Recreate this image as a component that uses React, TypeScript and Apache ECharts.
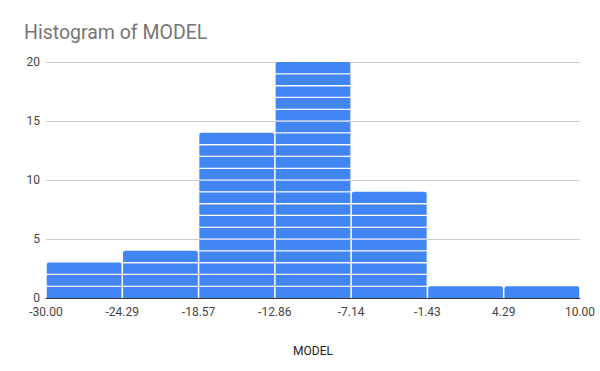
import React, { useEffect, useRef } from "react";
import * as echarts from "echarts";

const binLabels = ["-30.00", "-24.29", "-18.57", "-12.86", "-7.14", "-1.43", "4.29", "10.00"];
const binNames = ["b1", "b2", "b3", "b4", "b5", "b6", "b7"];
const counts = [3, 4, 14, 20, 9, 1, 1];
const yMax = 20;

export default function App() {
  const ref = useRef<HTMLDivElement>(null);
  useEffect(() => {
    if (!ref.current) return;
    const chart = echarts.init(ref.current, undefined, { renderer: "svg" });
    const maxCount = Math.max(...counts);
    const g = 0.09; // separator thickness in data units
    const series: any[] = [];
    for (let k = 1; k <= maxCount; k++) {
      series.push({
        type: "bar",
        stack: "s",
        xAxisIndex: 0,
        barCategoryGap: "2%",
        itemStyle: { color: "#4285f4" },
        data: counts.map((c) => {
          if (c < k) return { value: null };
          const top = c === k;
          const bottom = k === 1;
          const v = 1 - (bottom ? 0 : g / 2) - (top ? 0 : g / 2);
          return { value: v, itemStyle: top ? { borderRadius: [2, 2, 0, 0] } : {} };
        }),
      });
      if (k < maxCount) {
        series.push({
          type: "bar",
          stack: "s",
          xAxisIndex: 0,
          barCategoryGap: "2%",
          itemStyle: { color: "#ffffff" },
          data: counts.map((c) => (c > k ? { value: g } : { value: null })),
        });
      }
    }
    chart.setOption({
      animation: false,
      backgroundColor: "#ffffff",
      textStyle: { fontFamily: "Roboto" },
      title: {
        text: "Histogram of MODEL",
        left: 19,
        top: 17,
        textStyle: { fontSize: 19.5, fontWeight: "normal", color: "#757575", fontFamily: "Roboto" },
      },
      grid: { left: 46, right: 20, top: 62, bottom: 73 },
      xAxis: [
        {
          type: "category",
          data: binNames,
          axisLine: { show: true, lineStyle: { color: "#333333", width: 1 } },
          axisTick: { show: false },
          axisLabel: { show: false },
          splitLine: { show: false },
          z: 5,
        },
        {
          type: "value",
          min: 0,
          max: binLabels.length - 1,
          interval: 1,
          position: "bottom",
          axisLine: { show: false },
          axisTick: { show: false },
          splitLine: { show: false },
          axisLabel: {
            color: "#444444",
            fontSize: 12,
            margin: 8,
            formatter: (v: number) => binLabels[Math.round(v)],
          },
          name: "MODEL",
          nameLocation: "middle",
          nameGap: 47,
          nameTextStyle: { color: "#222222", fontSize: 12 },
        },
      ],
      yAxis: {
        type: "value",
        min: 0,
        max: yMax,
        interval: 5,
        axisLine: { show: false },
        axisTick: { show: false },
        axisLabel: { color: "#444444", fontSize: 12, margin: 6 },
        splitLine: { lineStyle: { color: "#cccccc", width: 1 } },
      },
      series,
    });
    return () => chart.dispose();
  }, []);
  return <div ref={ref} style={{ width: 600, height: 371, position: "absolute", left: 0, top: 0 }} />;
}
